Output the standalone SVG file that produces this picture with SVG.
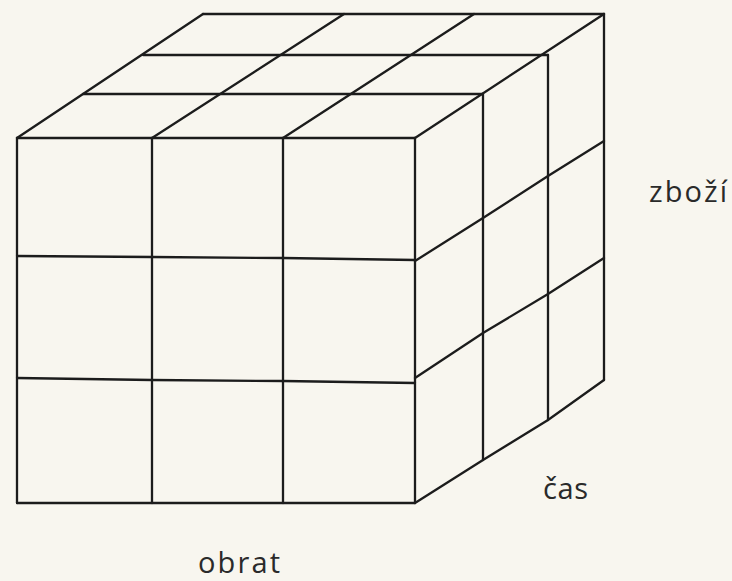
<svg xmlns="http://www.w3.org/2000/svg" width="732" height="581" viewBox="0 0 732 581">
<style>
.l{stroke:#1c1c1c;stroke-width:2.3;fill:none;stroke-linecap:round}
.t{font-family:"Open Sans","DejaVu Sans",sans-serif;font-size:29px;fill:#2a2a2a}
</style>
<rect width="732" height="581" fill="#f8f6ef"/>
<g id="cube">
<g id="front-face" class="l">
<line x1="17" y1="138" x2="415" y2="138"/>
<path d="M17 256 L152 257 L283 258 L415 260"/>
<path d="M17 378 L152 380 L283 381 L415 383"/>
<line x1="17" y1="503" x2="415" y2="503"/>
<line x1="17" y1="138" x2="17" y2="503"/>
<line x1="152" y1="138" x2="152" y2="503"/>
<line x1="283" y1="138" x2="283" y2="503"/>
<line x1="415" y1="138" x2="415" y2="503"/>
</g>
<g id="top-face" class="l">
<line x1="203" y1="14" x2="604" y2="14"/>
<line x1="143" y1="55" x2="548" y2="55"/>
<line x1="83" y1="94" x2="483" y2="94"/>
<line x1="17" y1="138" x2="203" y2="14"/>
<line x1="152" y1="138" x2="344" y2="14"/>
<line x1="283" y1="138" x2="474" y2="14"/>
<line x1="415" y1="138" x2="604" y2="14"/>
</g>
<g id="right-face" class="l">
<line x1="483" y1="94" x2="483" y2="460"/>
<line x1="548" y1="55" x2="548" y2="420"/>
<line x1="604" y1="14" x2="604" y2="380"/>
<path d="M415 261 L483 218 L548 176 L604 141"/>
<path d="M415 378 L483 333 L548 294 L604 258"/>
<path d="M415 503 L483 460 L548 420 L604 380"/>
</g>
</g>
<g id="labels">
<text id="zbozi" class="t" x="649" y="202" textLength="78" lengthAdjust="spacing">zboží</text>
<text id="cas" class="t" x="543" y="499" textLength="45" lengthAdjust="spacing">čas</text>
<text id="obrat" class="t" x="198" y="573" textLength="82" lengthAdjust="spacing">obrat</text>
</g>
</svg>
